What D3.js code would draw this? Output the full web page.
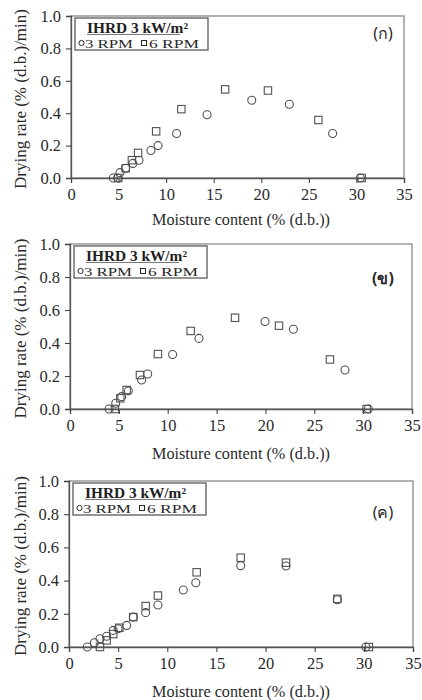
<!DOCTYPE html>
<html><head><meta charset="utf-8">
<script src="https://cdn.jsdelivr.net/npm/d3@7"></script>
<style>body{margin:0;background:#fff}svg{display:block}</style>
</head><body>
<svg id="c" width="422" height="700"></svg>
<script>
// ---- data ----
const panelLabels = ["(ก)", "(ข)", "(ค)"];
const legendTitle = "IHRD 3 kW/m²";
const seriesNames = ["3 RPM", "6 RPM"];
const xTicks = [0, 5, 10, 15, 20, 25, 30, 35];
const yTicks = [0.0, 0.2, 0.4, 0.6, 0.8, 1.0];

// Panel (ก)
const a_rpm3_x = [4.45, 4.9, 5.15, 5.75, 6.5, 7.15, 8.4, 9.15, 11.1, 14.3, 19.0, 22.95, 27.5, 30.4];
const a_rpm3_y = [0.0, 0.0, 0.033, 0.06, 0.09, 0.11, 0.17, 0.2, 0.275, 0.39, 0.48, 0.455, 0.275, 0.0];
const a_rpm6_x = [4.97, 5.75, 6.4, 7.05, 8.95, 11.6, 16.2, 20.7, 26.0, 30.55];
const a_rpm6_y = [0.0, 0.06, 0.11, 0.155, 0.288, 0.425, 0.547, 0.54, 0.358, 0.0];

// Panel (ข)
const b_rpm3_x = [4.0, 4.68, 5.29, 5.97, 7.33, 7.95, 10.5, 13.2, 19.96, 22.86, 28.14, 30.53];
const b_rpm3_y = [0.0, 0.035, 0.075, 0.11, 0.176, 0.212, 0.33, 0.428, 0.53, 0.483, 0.236, 0.0];
const b_rpm6_x = [4.6, 5.15, 5.8, 7.16, 9.0, 12.35, 16.89, 21.39, 26.6, 30.36];
const b_rpm6_y = [0.0, 0.065, 0.115, 0.206, 0.333, 0.473, 0.553, 0.505, 0.3, 0.0];

// Panel (ค)
const c_rpm3_x = [1.86, 2.58, 3.15, 3.83, 4.5, 5.0, 5.87, 6.54, 7.8, 9.05, 11.63, 12.9, 17.47, 22.08, 27.3, 30.2];
const c_rpm3_y = [0.0, 0.026, 0.05, 0.065, 0.1, 0.11, 0.13, 0.18, 0.207, 0.253, 0.343, 0.387, 0.49, 0.488, 0.285, 0.0];
const c_rpm6_x = [3.15, 3.83, 4.5, 5.12, 6.54, 7.8, 9.05, 12.99, 17.47, 22.08, 27.3, 30.52];
const c_rpm6_y = [0.0, 0.04, 0.078, 0.116, 0.18, 0.247, 0.31, 0.45, 0.538, 0.508, 0.29, 0.0];

const panelData = [
  [[a_rpm3_x, a_rpm3_y], [a_rpm6_x, a_rpm6_y]],
  [[b_rpm3_x, b_rpm3_y], [b_rpm6_x, b_rpm6_y]],
  [[c_rpm3_x, c_rpm3_y], [c_rpm6_x, c_rpm6_y]]
];

// ---- layout ----
const boxes = [
  {l: 71, t: 16, r: 404, b: 178, xt: 47, lab: 39},
  {l: 70, t: 244, r: 412, b: 409, xt: 50, lab: 284},
  {l: 69, t: 481, r: 413, b: 647, xt: 50, lab: 518}
];
const serif = "'Liberation Serif','Times New Roman',serif";
const svg = d3.select("#c");
const ink = "#2a2a2a";

boxes.forEach((bx, i) => {
  const x = d3.scaleLinear().domain([0, 35]).range([bx.l, bx.r]);
  const y = d3.scaleLinear().domain([0, 1]).range([bx.b, bx.t]);
  const g = svg.append("g");

  // frame
  g.append("rect").attr("x", bx.l).attr("y", bx.t)
    .attr("width", bx.r - bx.l).attr("height", bx.b - bx.t)
    .attr("fill", "none").attr("stroke", "#8a8a8a").attr("stroke-width", 1.3);

  const xa = g.append("g").attr("transform", `translate(0,${bx.b})`)
    .call(d3.axisBottom(x).tickValues(xTicks).tickSize(5).tickPadding(5).tickFormat(d3.format("d")));
  const ya = g.append("g").attr("transform", `translate(${bx.l},0)`)
    .call(d3.axisLeft(y).tickValues(yTicks).tickSize(5).tickPadding(5).tickFormat(d3.format(".1f")));
  [xa, ya].forEach(a => {
    a.select(".domain").attr("stroke", "#555").attr("stroke-width", 1.3);
    a.selectAll(".tick line").attr("stroke", "#444").attr("stroke-width", 1.1);
    a.selectAll("text").attr("font-family", serif).attr("font-size", 16.5).attr("fill", ink);
  });

  // axis titles
  g.append("text").attr("x", 241).attr("y", bx.b + bx.xt)
    .attr("text-anchor", "middle").attr("font-family", serif).attr("font-size", 16).attr("fill", ink)
    .attr("textLength", 178).attr("lengthAdjust", "spacingAndGlyphs")
    .text("Moisture content (% (d.b.))");
  g.append("text").attr("transform", `translate(26,${(bx.t + bx.b) / 2 + 2}) rotate(-90)`)
    .attr("text-anchor", "middle").attr("font-family", serif).attr("font-size", 16.5).attr("fill", ink)
    .attr("textLength", 180).attr("lengthAdjust", "spacingAndGlyphs")
    .text("Drying rate (% (d.b.)/min)");

  // panel label
  g.append("text").attr("x", 383).attr("y", bx.lab)
    .attr("text-anchor", "middle").attr("font-family", "'Noto Sans','DejaVu Sans',sans-serif")
    .attr("font-size", 16).attr("fill", ink).attr("font-weight", i === 1 ? "bold" : "normal")
    .text(panelLabels[i]);

  // legend
  const lg = g.append("g").attr("transform", `translate(${bx.l + 4},${bx.t + 2})`);
  lg.append("rect").attr("x", 0).attr("y", 0).attr("width", 133).attr("height", 32)
    .attr("fill", "#fff").attr("stroke", "#666").attr("stroke-width", 1.4);
  lg.append("text").attr("x", 12).attr("y", 14.5)
    .attr("font-family", serif).attr("font-size", 14.5).attr("font-weight", "bold").attr("fill", "#1e1e1e")
    .attr("textLength", 101).attr("lengthAdjust", "spacingAndGlyphs")
    .text(legendTitle);
  lg.append("line").attr("x1", 12).attr("x2", 105).attr("y1", 16.5).attr("y2", 16.5).attr("stroke", "#555").attr("stroke-width", 0.8);
  lg.append("circle").attr("cx", 6.5).attr("cy", 25).attr("r", 2.6).attr("fill", "none").attr("stroke", ink).attr("stroke-width", 1);
  lg.append("text").attr("x", 10).attr("y", 29.5).attr("font-family", serif).attr("font-size", 13.5).attr("fill", ink)
    .attr("textLength", 48).attr("lengthAdjust", "spacingAndGlyphs").text(seriesNames[0]);
  lg.append("rect").attr("x", 66.5).attr("y", 22.5).attr("width", 5).attr("height", 5).attr("fill", "none").attr("stroke", ink).attr("stroke-width", 1);
  lg.append("text").attr("x", 74).attr("y", 29.5).attr("font-family", serif).attr("font-size", 13.5).attr("fill", ink)
    .attr("textLength", 50).attr("lengthAdjust", "spacingAndGlyphs").text(seriesNames[1]);

  // markers
  const [s3, s6] = panelData[i];
  g.append("g").selectAll("circle").data(d3.range(s3[0].length)).join("circle")
    .attr("cx", k => x(s3[0][k])).attr("cy", k => y(s3[1][k])).attr("r", 4)
    .attr("fill", "none").attr("stroke", "#505050").attr("stroke-width", 1.1);
  g.append("g").selectAll("rect").data(d3.range(s6[0].length)).join("rect")
    .attr("x", k => x(s6[0][k]) - 3.7).attr("y", k => y(s6[1][k]) - 3.7)
    .attr("width", 7.4).attr("height", 7.4)
    .attr("fill", "none").attr("stroke", "#505050").attr("stroke-width", 1.1);
});
</script>
</body></html>
